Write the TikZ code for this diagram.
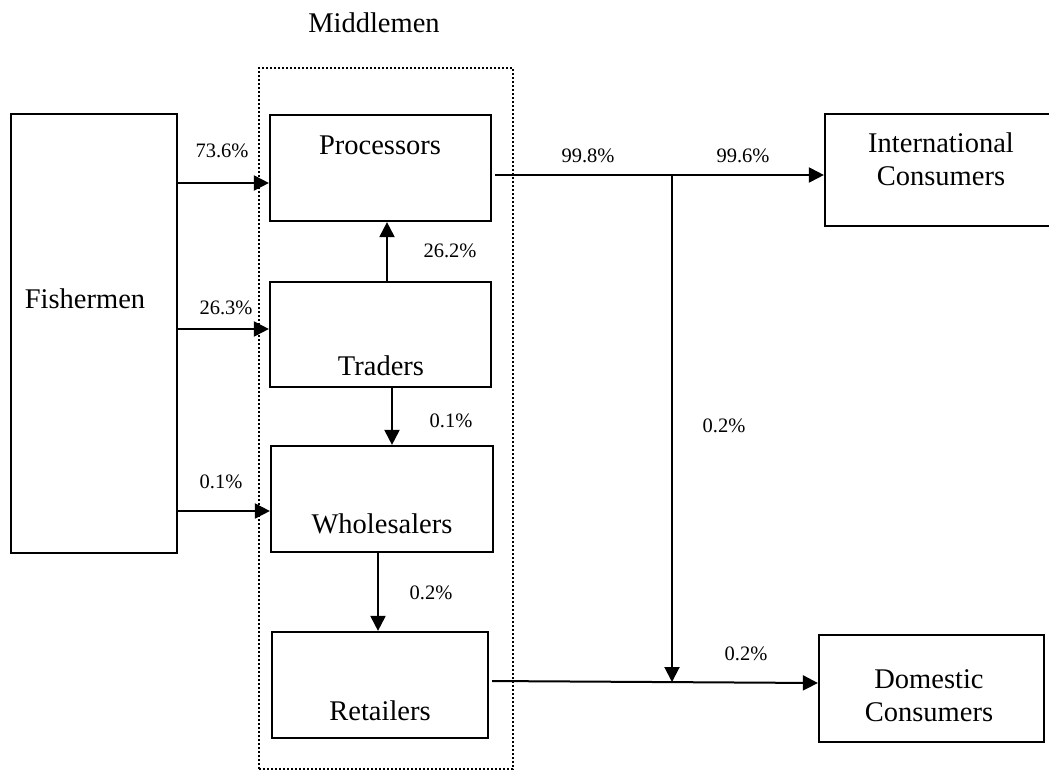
\documentclass[tikz,border=0pt]{standalone}
\usepackage{fontspec}
\setmainfont{Liberation Serif}
\usetikzlibrary{arrows.meta}

\begin{document}
\begin{tikzpicture}[x=1pt,y=-1pt,
  box/.style={draw,line width=2.2pt,inner sep=0pt},
  flow/.style={line width=2pt,-{Triangle[length=15pt,width=15pt]}},
  big/.style={font=\fontsize{28.5}{32.5}\selectfont,anchor=base},
  pct/.style={font=\fontsize{20.5}{24}\selectfont,anchor=base}]
\useasboundingbox (0,0) rectangle (1049,771);
% middlemen group
\node[draw,line width=2.6pt,dash pattern=on 2.2pt off 1.8pt,minimum width=254pt,minimum height=701pt] (mid) at (386,418.5) {};
\node[big] (midtxt) at (374,32) {Middlemen};
% boxes
\node[box,minimum width=166pt,minimum height=439pt] (fish) at (94,333.5) {};
\node[box,minimum width=221pt,minimum height=106pt] (proc) at (380.5,168) {};
\node[box,minimum width=221pt,minimum height=105pt] (trad) at (380.5,334.5) {};
\node[box,minimum width=222pt,minimum height=106pt] (whol) at (382,499) {};
\node[box,minimum width=216pt,minimum height=106pt] (retl) at (380,685) {};
\node[box,minimum width=232pt,minimum height=112pt] (intl) at (941,170) {};
\node[box,minimum width=225pt,minimum height=107pt] (dome) at (931.5,688.5) {};
\node[big] (fishtxt) at (85,308) {Fishermen};
\node[big] (proctxt) at (380,154) {Processors};
\node[big] (tradtxt) at (381,375) {Traders};
\node[big] (wholtxt) at (382,533) {Wholesalers};
\node[big] (retltxt) at (380,720) {Retailers};
\node[big,align=center] (intltxt) at (941,185) {International\\Consumers};
\node[big,align=center] (dometxt) at (929,721) {Domestic\\Consumers};
% flows
\draw[flow] (fish.east |- 0,183) -- (proc.west |- 0,183);
\draw[flow] (fish.east |- 0,329) -- (trad.west |- 0,329);
\draw[flow] (fish.east |- 0,511) -- (whol.west |- 0,511);
\draw[flow] (trad.north -| 387,0) -- (proc.south -| 387,0);
\draw[flow] (trad.south -| 392,0) -- (whol.north -| 392,0);
\draw[flow] (whol.south -| 378,0) -- (retl.north -| 378,0);
\draw[flow,shorten <=3pt] (proc.east |- 0,175) -- (intl.west |- 0,175);
\coordinate (split) at (672,175);
\coordinate (join) at (672,682);
\draw[flow] (split) -- (join);
\draw[flow,shorten <=3pt] ([yshift=4pt]retl.east) -- ([yshift=5.5pt]dome.west);
% shares
\node[pct] (p1) at (222,157) {73.6\%};
\node[pct] (p2) at (226,314) {26.3\%};
\node[pct] (p3) at (221,488) {0.1\%};
\node[pct] (p4) at (450,257) {26.2\%};
\node[pct] (p5) at (451,427) {0.1\%};
\node[pct] (p6) at (431,599) {0.2\%};
\node[pct] (p7) at (588,162) {99.8\%};
\node[pct] (p8) at (743,162) {99.6\%};
\node[pct] (p9) at (724,432) {0.2\%};
\node[pct] (p10) at (746,660) {0.2\%};
\end{tikzpicture}
\end{document}
